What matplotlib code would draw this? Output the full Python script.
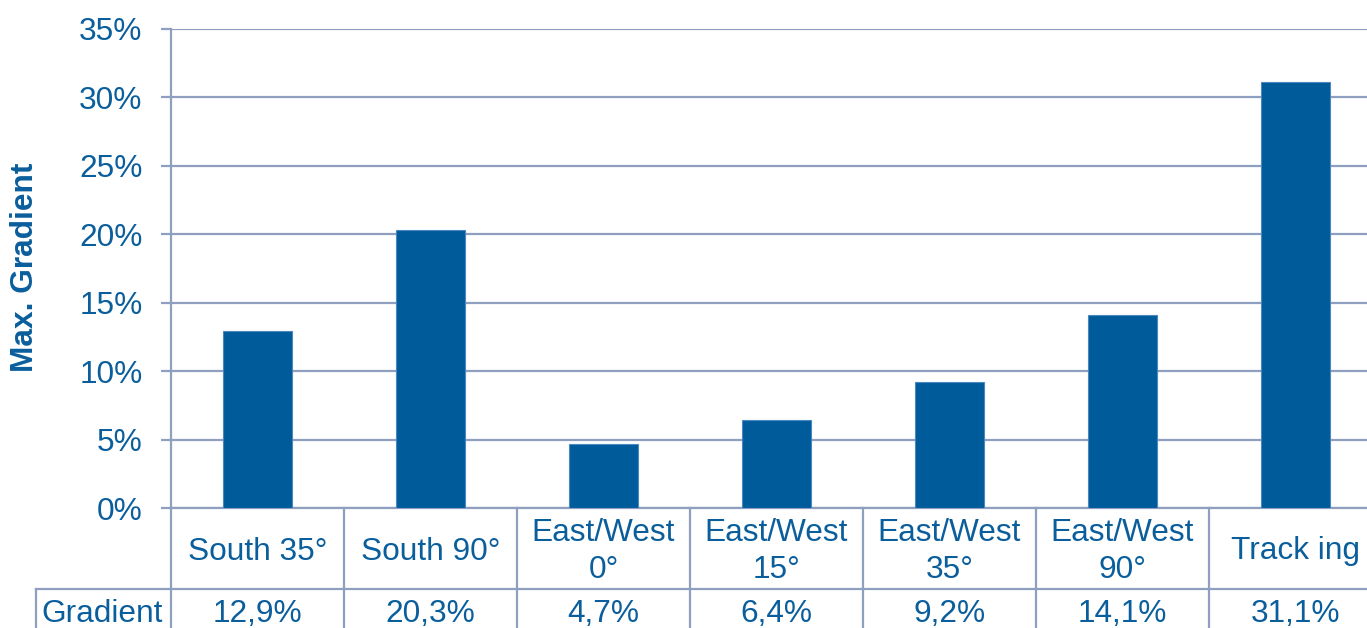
import matplotlib
matplotlib.use("Agg")
import matplotlib.pyplot as plt
from matplotlib.transforms import blended_transform_factory

categories = ["South 35°", "South 90°", "East/West\n0°", "East/West\n15°",
              "East/West\n35°", "East/West\n90°", "Track ing"]
values = [0.129, 0.203, 0.047, 0.064, 0.092, 0.141, 0.311]
value_labels = ["12,9%", "20,3%", "4,7%", "6,4%", "9,2%", "14,1%", "31,1%"]
yticks = [0, 0.05, 0.10, 0.15, 0.20, 0.25, 0.30, 0.35]
ytick_labels = ["0%", "5%", "10%", "15%", "20%", "25%", "30%", "35%"]
row_label = "Gradient"
y_label = "Max. Gradient"

W, H = 1367, 628
TXT = "#0A5E9C"
BAR = "#005B9B"
GRID = "#8E9FBF"
FS = 22.8

plt.rcParams['font.family'] = ['Liberation Sans', 'DejaVu Sans']

fig = plt.figure(figsize=(W / 100, H / 100), dpi=100)
left_px, right_px, top_px, bot_px = 171, 171 + 7 * 173, 29, 508
ax = fig.add_axes([left_px / W, (H - bot_px) / H,
                   (right_px - left_px) / W, (bot_px - top_px) / H])

xs = [i + 0.5 for i in range(len(categories))]
ax.bar(xs, values, width=0.4, color=BAR, edgecolor="#4C88C0", linewidth=0.8, zorder=3)
ax.set_xlim(0, len(categories))
ax.set_ylim(0, 0.35)
ax.set_yticks(yticks)
ax.set_yticklabels(ytick_labels, fontsize=FS, color=TXT)
ax.tick_params(axis='y', length=7.5, width=1.6, color=GRID, pad=13)
ax.set_xticks([])
ax.grid(axis='y', color=GRID, linewidth=1.6, zorder=0)
for s in ['top', 'right']:
    ax.spines[s].set_visible(False)
for s in ['left', 'bottom']:
    ax.spines[s].set_color(GRID)
    ax.spines[s].set_linewidth(1.6)

fig.text(25 / W, 1 - 267 / H, y_label, rotation=90, ha='center', va='center',
         fontsize=FS, fontweight='bold', color=TXT)

# table drawn below the axes
tr = blended_transform_factory(ax.transData, ax.transAxes)
def yfrac(ypx):
    return (bot_px - ypx) / (bot_px - top_px)

row1_bottom = 589
table_bottom = 700
x_left_border = (36 - left_px) / 173.0
for k in range(len(categories) + 1):
    ax.plot([k, k], [yfrac(bot_px), yfrac(table_bottom)], transform=tr,
            color=GRID, lw=1.6, clip_on=False)
ax.plot([x_left_border, x_left_border], [yfrac(row1_bottom), yfrac(table_bottom)],
        transform=tr, color=GRID, lw=1.6, clip_on=False)
ax.plot([x_left_border, len(categories)], [yfrac(row1_bottom)] * 2, transform=tr,
        color=GRID, lw=1.6, clip_on=False)

for x, c, v in zip(xs, categories, value_labels):
    ax.text(x, yfrac(551.5), c, transform=tr, ha='center', va='center',
            fontsize=FS, color=TXT, linespacing=1.3, clip_on=False)
    ax.text(x, yfrac(614.5), v, transform=tr, ha='center', va='center',
            fontsize=FS, color=TXT, clip_on=False)
ax.text(x_left_border + 0.03, yfrac(614.5), row_label, transform=tr, ha='left',
        va='center', fontsize=FS, color=TXT, clip_on=False)

fig.savefig("out.png", dpi=100)
